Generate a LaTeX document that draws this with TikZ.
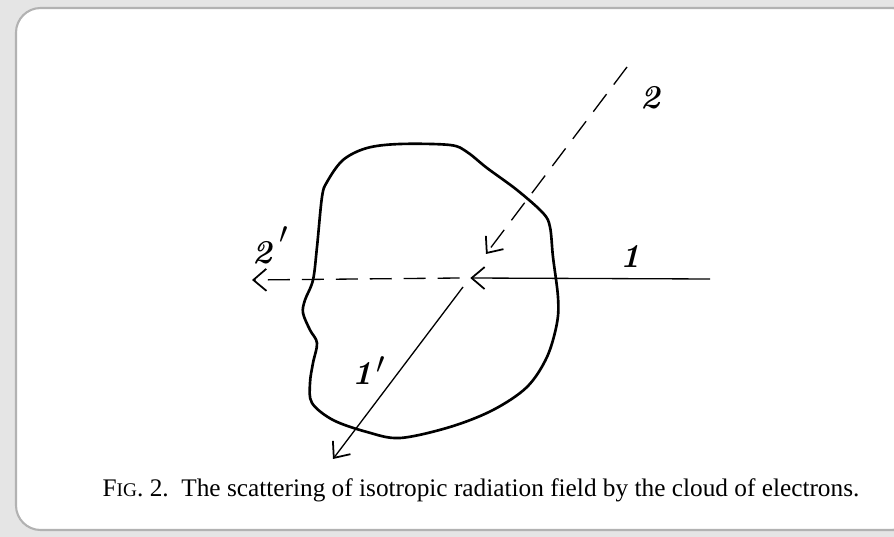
\documentclass[tikz,border=0pt]{standalone}
\usepackage{fontspec}
\usepackage{tikz}
\usetikzlibrary{arrows.meta, positioning, calc}
\newfontfamily\capfont{Liberation Serif}

\begin{document}
\begin{tikzpicture}[
            x=0.02cm, y=-0.02cm,
            ray/.style={line width=0.75pt, -{Straight Barb[length=2.6mm, width=4.4mm, line width=1pt]}},
            dashray/.style={ray, dash pattern=on 4.4mm off 2.4mm},
            lbl/.style={font=\fontsize{19}{20}\selectfont\bfseries\itshape, inner sep=0pt}
        ]
            \useasboundingbox (0,0) rectangle (894,537);
            % card edge
            \fill[gray!20, even odd rule] (0,0) rectangle (894,537)
                [rounded corners=14pt] (16,8) rectangle (910,530);
            \draw[gray!60, line width=1.2pt, rounded corners=14pt] (894,8) -- (16,8) -- (16,530) -- (894,530);

            % cloud of electrons
            \draw[line width=1.5pt] plot[smooth cycle, tension=0.55] coordinates {
                (327,182) (343,160) (367,148) (400,144) (450,145) (467,152)
                (487,168) (517,190) (543,213) (550,227) (553,257) (558,297)
                (557,323) (547,357) (527,387) (493,410) (450,427) (400,438)
                (367,432) (333,420) (312,403) (310,383) (313,363) (317,343)
                (310,330) (303,313) (305,300) (313,280) (317,247) (322,197)};

            \coordinate (centre) at (465,278);
            \coordinate (in1) at (710,279);
            \coordinate (in2) at (627,67);
            \coordinate (tip2) at (486,254);
            \coordinate (out2) at (252,280);
            \coordinate (from1) at (463,287);
            \coordinate (out1) at (333,459);

            \draw[ray] (in1) -- ([xshift=3]centre);
            \draw[dashray] (in2) -- (tip2);
            \draw[dashray] ([xshift=-3]centre) -- (out2);
            \draw[ray] (from1) -- (out1);

            \node[lbl] (l2) at (650,98) {2};
            \node[lbl] (l2p) at (262,253) {2};
            \node[lbl, anchor=north] (l2t) at (284,226) {$\prime$};
            \node[lbl] (l1) at (630,256) {1};
            \node[lbl] (l1p) at (362,373) {1};
            \node[lbl, anchor=north] (l1t) at (381,356) {$\prime$};

            \node[font=\capfont\fontsize{14.4}{16}\selectfont, inner sep=0pt] (cap) at (481,490)
                {F{\fontsize{11}{12}\selectfont IG}. 2.\ \ The scattering of isotropic radiation field by the cloud of electrons.};
        \end{tikzpicture}
\end{document}
